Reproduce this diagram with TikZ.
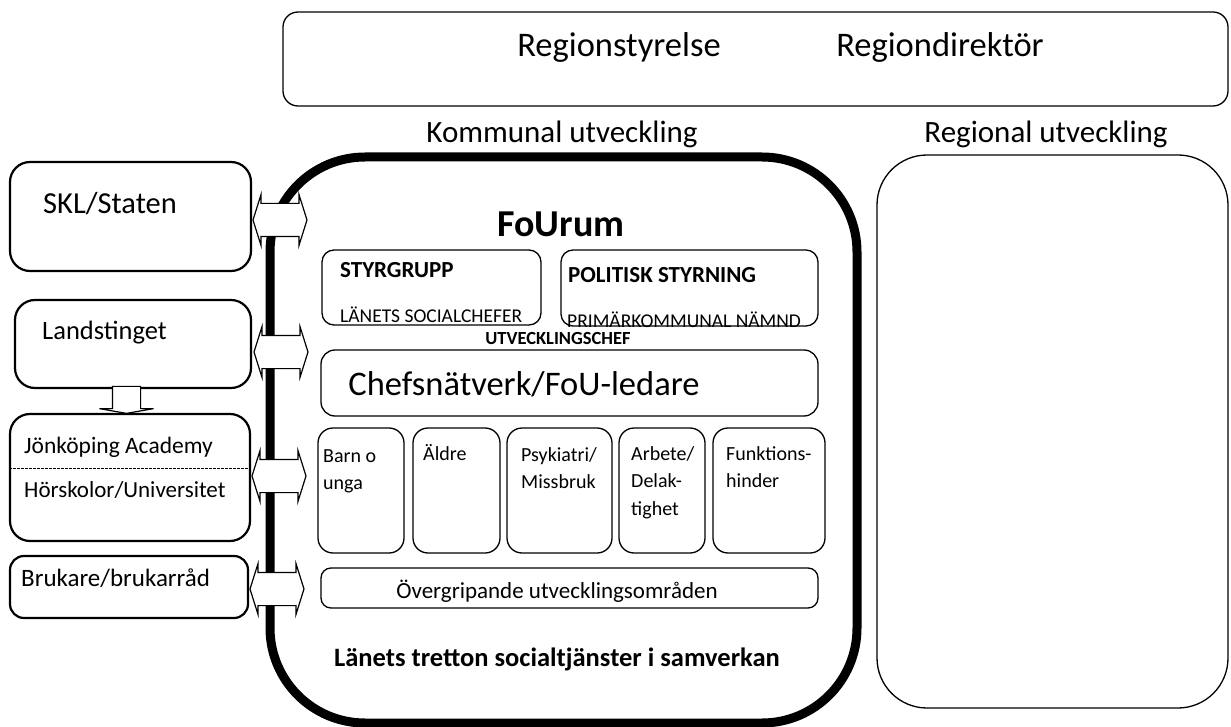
\documentclass[tikz,border=0pt]{standalone}
\usepackage{fontspec}
\setmainfont{Carlito}
\usetikzlibrary{shapes.arrows}
\newcommand{\fs}[1]{\fontsize{#1}{#1}\selectfont}
\newcommand{\stack}[1]{\parbox[t]{110pt}{\raggedright\fontsize{20}{27.5}\selectfont #1}}
\begin{document}
\begin{tikzpicture}[x=1pt,y=-1pt,
  box/.style={draw, rounded corners=#1, inner sep=0pt, line width=1.3pt},
  box/.default=14pt,
  sidebox/.style={draw, rounded corners=20pt, inner sep=0pt, line width=2.2pt},
  txt/.style={inner sep=0pt, anchor=base},
  ltxt/.style={inner sep=0pt, anchor=base west},
  dbl/.style={double arrow, draw, fill=white, line width=1.2pt, minimum height=54pt,
    minimum width=50pt, inner xsep=0pt, inner ysep=16pt, double arrow head extend=9pt,
    double arrow tip angle=145, double arrow head indent=0pt}
]
\useasboundingbox (0,0) rectangle (1231,727);
\fill[white] (0,0) rectangle (1231,727);

% top box
\node[box=15pt, minimum width=945pt, minimum height=94pt] (top) at (755.5,59) {};
\node[txt, font=\fs{34.5}] (rs) at (619,57) {Regionstyrelse};
\node[txt, font=\fs{34.5}] (rd) at (940,57) {Regiondirektör};

% headings
\node[txt, font=\fs{31}] (ku) at (562,143) {Kommunal utveckling};
\node[txt, font=\fs{31}] (ru) at (1046,143) {Regional utveckling};

% right box
\node[box=50pt, minimum width=351pt, minimum height=553pt] (reg) at (1052.5,431.5) {};

% big box
\node[draw, line width=9pt, rounded corners=95pt, inner sep=0pt, minimum width=587pt, minimum height=566pt] (fou) at (563.5,440) {};

% left boxes
\node[sidebox, minimum width=241pt, minimum height=109pt] (skl) at (130.5,216.5) {};
\node[ltxt, font=\fs{30.5}] at (43,214) {SKL/Staten};
\node[sidebox, minimum width=236pt, minimum height=88pt] (lt) at (133,344) {};
\node[ltxt, font=\fs{26.5}] at (42,339) {Landstinget};
\node[sidebox, minimum width=240pt, minimum height=127pt] (jon) at (130,477.5) {};
\node[ltxt, font=\fs{23.5}] at (24,453) {Jönköping Academy};
\node[ltxt, font=\fs{23}] at (24,497) {Hörskolor/Universitet};
\coordinate (dl) at (jon.west |- 0,468);
\coordinate (dr) at (jon.east |- 0,468);
\draw[line width=1pt, dash pattern=on 3pt off 1pt] (dl) -- (dr);
\node[sidebox, rounded corners=14pt, minimum width=238pt, minimum height=62pt] (bru) at (129,587) {};
\node[ltxt, font=\fs{25}] at (21,586) {Brukare/brukarråd};

% down arrow
\node[single arrow, draw, fill=white, line width=1.2pt, rotate=-90, minimum height=27pt,
  minimum width=53pt, inner xsep=0pt, inner ysep=13.5pt, single arrow tip angle=160,
  single arrow head extend=13pt, anchor=tip] (down) at (126.5,414) {};

% double arrows
\node[dbl] (a1) at (280,220) {};
\node[dbl] (a2) at (281,352) {};
\node[dbl] (a3) at (279,476) {};
\node[dbl] (a4) at (277,589) {};

% inside
\node[txt, font=\bfseries\fs{38}] (fo) at (561,237) {FoUrum};
\node[box=12pt, minimum width=219pt, minimum height=75pt] (sty) at (431.5,287.5) {};
\node[ltxt, font=\bfseries\fs{23}] at (340,278) {STYRGRUPP};
\node[ltxt, font=\fs{19.5}] at (340,322) {LÄNETS SOCIALCHEFER};
\node[box=12pt, minimum width=257pt, minimum height=76pt] (pol) at (689.5,288) {};
\node[ltxt, font=\bfseries\fs{23}] at (568,283) {POLITISK STYRNING};
\node[ltxt, font=\fs{19.5}] at (567,327) {PRIMÄRKOMMUNAL NÄMND};
\node[txt, font=\bfseries\fs{18.5}] at (558,344) {UTVECKLINGSCHEF};
\node[box=14pt, minimum width=497pt, minimum height=66pt] (che) at (569.5,383) {};
\node[txt, font=\fs{34.5}] at (524,395) {Chefsnätverk/FoU-ledare};

\node[box=15pt, minimum width=86pt, minimum height=125pt] (b1) at (361,490.5) {};
\node[box=15pt, minimum width=87pt, minimum height=125pt] (b2) at (456.5,490.5) {};
\node[box=15pt, minimum width=105pt, minimum height=125pt] (b3) at (559.5,490.5) {};
\node[box=15pt, minimum width=86pt, minimum height=125pt] (b4) at (662,490.5) {};
\node[box=15pt, minimum width=112pt, minimum height=125pt] (b5) at (769,490.5) {};
\node[ltxt] at (323,462) {\stack{Barn o\\unga}};
\node[ltxt] at (423,460) {\stack{Äldre}};
\node[ltxt] at (521,461) {\stack{Psykiatri/\\Missbruk}};
\node[ltxt] at (631,460) {\stack{Arbete/\\Delak-\\tighet}};
\node[ltxt] at (726,460) {\stack{Funktions-\\hinder}};

\node[box=10pt, minimum width=497pt, minimum height=40pt] (ov) at (569.5,588) {};
\node[txt, font=\fs{23}] at (557,598) {Övergripande utvecklingsområden};
\node[txt, font=\bfseries\fs{26.5}] at (557,666) {Länets tretton socialtjänster i samverkan};
\end{tikzpicture}
\end{document}
